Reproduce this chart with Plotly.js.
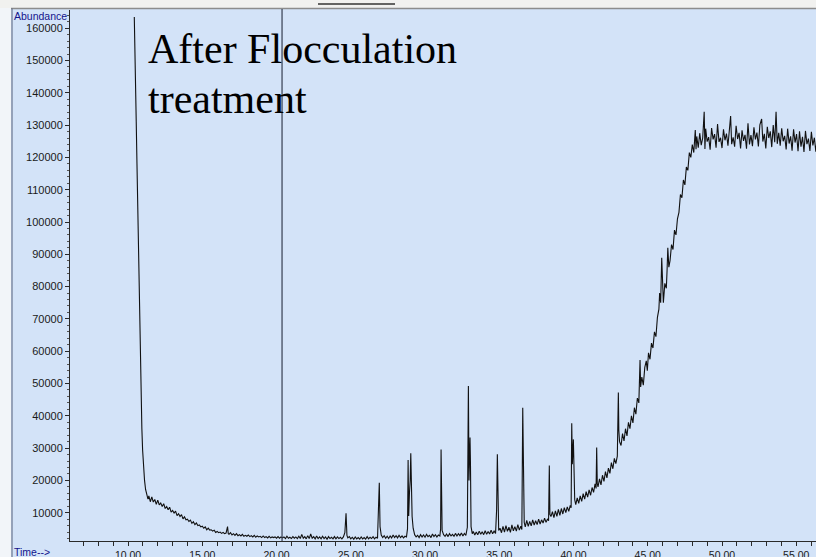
<!DOCTYPE html>
<html>
<head>
<meta charset="utf-8">
<script src="https://cdn.plot.ly/plotly-3.0.1.min.js"></script>
<style>html,body{margin:0;padding:0;background:#f2f5f9;}#chart{width:816px;height:557px;}</style>
</head>
<body>
<div id="chart"></div>
<script>
// ---- Data (time in minutes, abundance) ----
const tDrop = [10.42,10.46,10.50,10.55,10.60,10.65,10.70,10.75,10.80,10.88,10.93,10.98,11.04,11.11,11.18,11.28,11.34];
const aDrop = [163500,156000,141000,131000,118000,104000,92000,76000,62000,45000,36000,29400,24000,20000,17200,15500,14200];

const tDecay = [
 11.4,11.5,11.6,11.7,11.8,11.9,12.0,12.1,12.2,12.3,
 12.4,12.5,12.6,12.7,12.8,12.9,13.0,13.1,13.2,13.3,
 13.4,13.5,13.6,13.7,13.8,13.9,14.0,14.1,14.2,14.3,
 14.4,14.5,14.6,14.7,14.8,14.9,15.0,15.1,15.2,15.3,
 15.4,15.5,15.6,15.7,15.8,15.9,16.0,16.1,16.2,16.3,
 16.4,16.5,16.6,16.7,16.75,
 16.8,16.9,17.0,17.1,17.2,17.3,17.4,17.5,17.6,17.7,
 17.8,17.9,18.0,18.1,18.2,18.3,18.4,18.5,18.6,18.7,
 18.8,18.9,19.0,19.1,19.2,19.3,19.4,19.5,19.6,19.7,
 19.8,19.9,20.0,20.1,20.2,20.3,20.4,20.5,20.6,20.7,
 20.8,20.9,21.0,21.1,21.2,21.3,21.4,21.5];
const aDecay = [
 15200,13400,14900,13300,14100,12600,13900,12400,13000,11900,
 12800,11300,11900,10900,11700,10200,10700,9900,10500,9100,
 9700,8800,9400,8100,8700,7800,8000,7300,7700,6700,
 7200,6300,6800,6000,6200,5600,5800,5200,5600,4700,
 5200,4600,4700,4300,4600,3900,4200,3800,4000,3600,
 3900,3500,3700,5700,3500,
 3300,3800,3100,3500,3000,3500,2900,3200,2800,3300,
 2700,3000,2700,3100,2600,2900,2500,3000,2400,2800,
 2500,2700,2300,2800,2300,2600,2200,2700,2200,2500,
 2300,2500,2100,2600,2100,2500,2200,2500,2000,2700,
 2100,2400,2000,2600,2100,2500,2000,2700];

const tEarly = [
 21.6,21.7,21.8,21.9,22.0,22.1,22.2,22.3,22.4,22.5,
 22.6,22.7,22.8,22.9,23.0,23.1,23.2,23.3,23.4,23.5,
 23.6,23.7,23.8,23.9,24.0,24.1,24.2,24.3,24.4,24.5,
 24.6,24.68,24.74,24.8,24.9,25.0,25.1,25.2,25.3,25.4,
 25.5,25.6,25.7,25.8,25.9,26.0,26.1,26.2,26.3,26.4,
 26.5,26.6,26.7,26.8,26.88,26.92,26.97,27.05,27.15,27.25,
 27.35,27.45,27.55,27.65,27.75,27.85,27.95,28.05,28.15,28.25,
 28.35,28.45,28.55,28.65,28.75];
const aEarly = [
 2000,3300,2100,2600,1900,2900,2000,3400,2100,2600,
 1900,2800,2000,2500,1900,2700,2000,2500,1800,2600,
 2000,2400,1900,2600,1900,2500,2000,2400,1900,2500,
 3800,9800,3000,2200,2600,1900,2400,1800,2500,1900,
 2300,1800,2500,1900,2300,1800,2600,1900,2400,2000,
 2600,1900,2400,2100,10800,19300,5700,3100,2300,2900,
 2100,2700,2000,2800,2200,3100,2300,2900,2200,3000,
 2300,2800,2200,2700,2500];

const tPeaks = [
 28.82,28.86,28.9,28.95,29.0,29.04,29.08,29.13,29.2,29.3,
 29.4,29.5,29.6,29.7,29.8,29.9,30.0,30.1,30.2,30.3,
 30.4,30.5,30.6,30.7,30.8,30.9,31.0,31.05,31.08,31.11,
 31.15,31.25,31.35,31.45,31.55,31.65,31.75,31.85,31.95,32.05,
 32.15,32.25,32.35,32.45,32.55,32.65,32.75,32.85,32.92,32.96,
 33.03,33.06,33.1,33.18,33.25,33.35,33.45,33.55,33.65,33.75,
 33.85,33.95,34.05,34.15,34.25,34.35,34.45,34.55,34.65,34.75,
 34.82,34.87,34.91,34.96,35.05,35.15,35.25,35.35,35.45,35.55,
 35.65,35.75,35.85,35.95,36.05,36.15,36.25,36.35,36.45,36.52,
 36.58,36.61,36.64,36.68,36.75,36.85,36.95,37.05,37.15,37.25,
 37.35,37.45,37.55,37.65,37.75,37.85,37.95,38.05,38.15,38.25,
 38.32,38.37,38.41,38.48,38.58,38.68,38.78,38.88,38.98,39.08,
 39.18,39.28,39.38,39.48,39.58,39.68,39.78,39.84,39.88,39.92,
 39.99,40.03,40.08,40.15,40.25,40.35,40.45,40.55,40.65,40.75,
 40.85,40.95,41.05,41.15,41.25,41.35,41.45,41.52,41.56,41.6,
 41.65,41.75,41.85,41.95,42.05,42.15,42.25,42.35,42.45,42.55,
 42.65,42.75,42.85,42.95,43.02,43.05,43.1];
const aPeaks = [
 5000,26300,9000,16000,20000,28400,16500,8800,5200,3200,
 2500,3000,2300,3200,2500,3100,2400,3300,2600,3000,
 2300,3400,2600,3200,2500,3100,2800,5000,29600,17000,
 4500,3200,2700,3400,2600,3500,2800,3300,2700,3600,
 2800,3500,2900,3700,2800,3600,3000,5500,49200,20000,
 33300,25000,5700,3500,4200,3100,4000,3200,4300,3300,
 4100,3200,4400,3300,4200,3400,4600,3500,4300,3600,
 10800,28100,15000,4500,5200,3800,5800,4000,6000,4200,
 5500,3900,6200,4400,5700,4300,6300,4600,5800,4800,
 42500,27500,18000,7000,5600,7600,5800,7300,5900,7800,
 6200,7500,6300,8000,6500,7800,6800,8300,7000,8100,
 7500,24600,9500,8800,10300,8500,10600,8900,11000,9200,
 11300,9600,11600,10000,11800,10400,12300,11500,37700,25000,
 32700,24200,14000,12500,14600,12900,15200,13500,15900,14200,
 16500,14800,17100,15400,17800,16300,18900,17500,30200,19000,
 18000,20500,18600,21600,19700,22700,20800,23800,22200,25500,
 23600,26800,25200,27500,47200,35600,32000];

const tRise = [
 43.2,43.3,43.4,43.5,43.6,43.7,43.8,43.9,44.0,44.1,
 44.2,44.3,44.4,44.48,44.52,44.6,44.7,44.8,44.9,44.97,
 45.05,45.15,45.25,45.35,45.45,45.55,45.65,45.75,45.8,45.87,
 45.94,46.0,46.05,46.15,46.25,46.3,46.35,46.42,46.5,46.6,
 46.7,46.8,46.9,47.0,47.1,47.2,47.3,47.4,47.5,47.6,
 47.7,47.8,47.9,48.0,48.1,48.2,48.25,48.3,48.4];
const aRise = [
 30800,34500,32200,36000,33800,38000,36000,40000,37800,42500,
 40500,45500,44000,57300,48900,52000,49500,55000,57000,54000,
 59500,57500,62500,61000,66000,64500,70500,73000,78000,75000,
 88900,76000,75000,81000,79500,85000,92000,86000,88000,93000,
 91500,97500,96000,101000,103000,108500,107500,113000,111500,117000,
 116000,121500,120000,124000,121500,128500,122500,126500,123000];

const tPlateau = [
 48.5,48.6,48.7,48.8,48.85,48.9,49.0,49.1,49.2,49.3,
 49.4,49.5,49.6,49.7,49.8,49.9,50.0,50.1,50.2,50.3,
 50.4,50.5,50.58,50.65,50.75,50.85,50.95,51.05,51.15,51.25,
 51.35,51.45,51.55,51.65,51.75,51.85,51.95,52.05,52.15,52.25,
 52.35,52.45,52.55,52.67,52.75,52.85,52.95,53.05,53.15,53.25,
 53.35,53.45,53.55,53.64,53.72,53.82,53.92,54.02,54.12,54.22,
 54.32,54.42,54.52,54.62,54.72,54.82,54.92,55.02,55.12,55.22,
 55.32,55.42,55.52,55.62,55.72,55.82,55.92,56.02,56.12,56.22,
 56.32,56.4];
const aPlateau = [
 127500,123800,126000,134100,122600,128900,124900,126300,122400,129100,
 125600,127200,123000,130300,124800,126100,122900,128700,125300,127400,
 123600,129500,132800,124100,126200,123300,129800,125700,127600,122800,
 128400,125100,127000,122700,130600,124000,126900,123500,129300,125600,
 127700,123400,130100,131900,124900,127300,122800,129500,126000,128100,
 123200,130000,124700,134100,124200,127600,123600,129000,125000,126700,
 122500,128900,124300,126500,122100,128700,124600,127200,121900,128100,
 123300,126400,121700,128200,124100,125800,122000,127900,123700,126100,
 121800,125400];

const markerTime = [20.37];

const xTickVals = [10,15,20,25,30,35,40,45,50,55];
const xTickText = ['10.00','15.00','20.00','25.00','30.00','35.00','40.00','45.00','50.00','55.00'];
const yTickVals = [10000,20000,30000,40000,50000,60000,70000,80000,90000,100000,110000,120000,130000,140000,150000,160000];
const yTickText = ['10000','20000','30000','40000','50000','60000','70000','80000','90000','100000','110000','120000','130000','140000','150000','160000'];

const annoLine1 = 'After Flocculation';
const annoLine2 = 'treatment';
const yAxisLabel = 'Abundance';
const xAxisLabel = 'Time-->';

// ---- Build ----
const time = [].concat(tDrop, tDecay, tEarly, tPeaks, tRise, tPlateau);
const abundance = [].concat(aDrop, aDecay, aEarly, aPeaks, aRise, aPlateau);

const W = 816, H = 557, ML = 70, MR = 0, MT = 10, MB = 16;
const PW = W - ML - MR, PH = H - MT - MB;
const px = v => (v - ML) / PW;           // pixel x -> paper
const py = v => (H - MB - v) / PH;       // pixel y -> paper

const axisCol = '#2a2a2a';
const tickFont = {family: 'Liberation Sans, Arial, sans-serif', size: 11, color: '#1a1a1a'};
const xTickFont = {family: 'Liberation Sans, Arial, sans-serif', size: 10.5, color: '#1a1a1a'};

const data = [{
  type: 'scatter', mode: 'lines', x: time, y: abundance,
  line: {color: '#111111', width: 1.1},
  hoverinfo: 'skip', cliponaxis: true
}];

const layout = {
  width: W, height: H,
  margin: {l: ML, r: MR, t: MT, b: MB, pad: 0},
  paper_bgcolor: '#d3e3f8',
  plot_bgcolor: 'rgba(0,0,0,0)',
  showlegend: false,
  xaxis: {
    range: [6.09, 56.33], showgrid: false, zeroline: false,
    showline: true, linecolor: axisCol, linewidth: 1,
    tickmode: 'array', tickvals: xTickVals, ticktext: xTickText,
    ticks: 'outside', ticklen: 4, tickcolor: axisCol, tickwidth: 1,
    tickfont: xTickFont,
    minor: {dtick: 1, tick0: 0, ticks: 'outside', ticklen: 4, tickcolor: axisCol, showgrid: false}
  },
  yaxis: {
    range: [1240, 165640], showgrid: false, zeroline: false,
    showline: true, linecolor: axisCol, linewidth: 1,
    tickmode: 'array', tickvals: yTickVals, ticktext: yTickText,
    ticks: 'outside', ticklen: 4, tickcolor: axisCol, tickwidth: 1,
    tickfont: tickFont,
    minor: {dtick: 2000, tick0: 0, ticks: 'outside', ticklen: 2, tickcolor: '#555', showgrid: false}
  },
  shapes: [
    // outer window strips
    {type: 'rect', xref: 'paper', yref: 'paper', x0: px(0), x1: px(11), y0: py(H), y1: py(0),
     fillcolor: '#f2f5f9', line: {width: 0}, layer: 'below'},
    {type: 'rect', xref: 'paper', yref: 'paper', x0: px(0), x1: px(W), y0: py(8), y1: py(0),
     fillcolor: '#f1f1ef', line: {width: 0}, layer: 'below'},
    // panel borders
    {type: 'line', xref: 'paper', yref: 'paper', x0: px(11), x1: px(W), y0: py(8.5), y1: py(8.5),
     line: {color: '#8c8c8c', width: 1.5}},
    {type: 'line', xref: 'paper', yref: 'paper', x0: px(12), x1: px(12), y0: py(8.5), y1: py(H),
     line: {color: '#56607a', width: 1}},
    {type: 'line', xref: 'paper', yref: 'paper', x0: px(318), x1: px(395), y0: py(4), y1: py(4),
     line: {color: '#333333', width: 1.5}},
    // retention-time marker
    {type: 'line', xref: 'x', yref: 'paper', x0: markerTime[0], x1: markerTime[0], y0: 0, y1: py(9),
     line: {color: '#353d50', width: 1.2}}
  ],
  annotations: [
    {xref: 'paper', yref: 'paper', x: px(145.5), y: py(49.3), xanchor: 'left', yanchor: 'middle',
     text: annoLine1, showarrow: false,
     font: {family: 'Liberation Serif, Times New Roman, serif', size: 42, color: '#000'}},
    {xref: 'paper', yref: 'paper', x: px(145.5), y: py(99.5), xanchor: 'left', yanchor: 'middle',
     text: annoLine2, showarrow: false,
     font: {family: 'Liberation Serif, Times New Roman, serif', size: 42, color: '#000'}},
    {xref: 'paper', yref: 'paper', x: px(12), y: py(16), xanchor: 'left', yanchor: 'middle',
     text: yAxisLabel, showarrow: false,
     font: {family: 'Liberation Sans, Arial, sans-serif', size: 10.5, color: '#14148c'}},
    {xref: 'paper', yref: 'paper', x: px(12), y: py(551.5), xanchor: 'left', yanchor: 'middle',
     text: xAxisLabel, showarrow: false,
     font: {family: 'Liberation Sans, Arial, sans-serif', size: 10.5, color: '#14148c'}}
  ]
};

Plotly.newPlot('chart', data, layout, {staticPlot: true, displayModeBar: false});
</script>
</body>
</html>
